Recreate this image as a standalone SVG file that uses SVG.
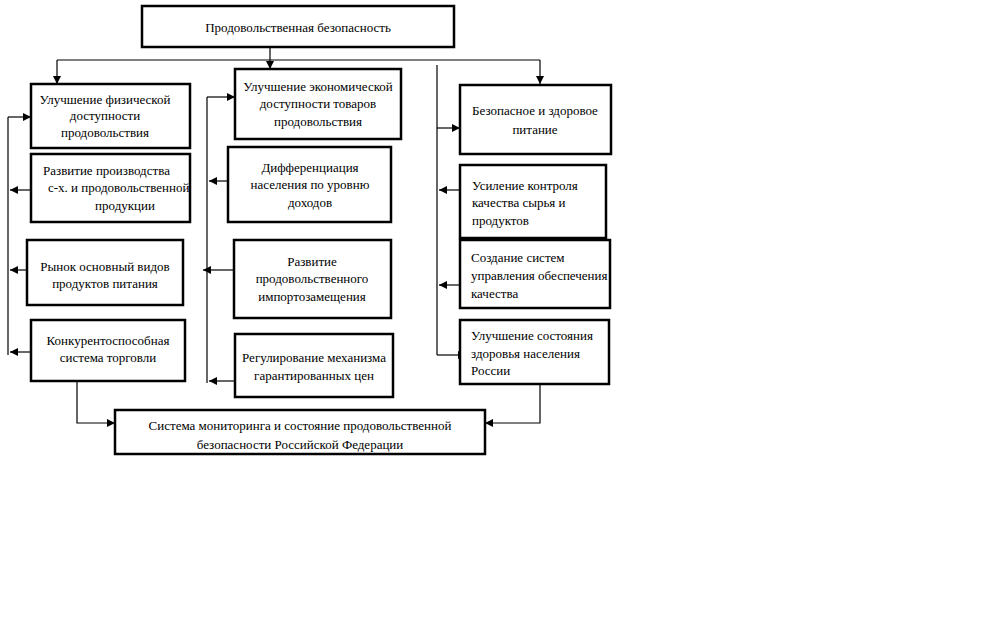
<svg xmlns="http://www.w3.org/2000/svg" width="1008" height="630" viewBox="0 0 1008 630">
<style>
.b{fill:#fff;stroke:#000;stroke-width:2.5}
.t{font-family:"Liberation Serif",serif;font-size:13px;fill:#000}
.m{text-anchor:middle}
.c{fill:none;stroke:#000;stroke-width:1.2}
</style>
<defs><marker id="a" viewBox="0 0 10 10" refX="10" refY="5" markerWidth="7" markerHeight="7" orient="auto"><path d="M0,0L10,5L0,10z"/></marker></defs>
<rect width="1008" height="630" fill="#fff"/>
<g id="connectors" class="c">
<path d="M57,60H540"/>
<path d="M57,60V84" marker-end="url(#a)"/>
<path d="M270,47V69" marker-end="url(#a)"/>
<path d="M540,60V84" marker-end="url(#a)"/>
<path d="M8,117V355"/>
<path d="M8,117H31" marker-end="url(#a)"/>
<path d="M31,190H10" marker-end="url(#a)"/>
<path d="M27,270H10" marker-end="url(#a)"/>
<path d="M31,352H10" marker-end="url(#a)"/>
<path d="M207,97V383"/>
<path d="M207,97H235" marker-end="url(#a)"/>
<path d="M228,181H209" marker-end="url(#a)"/>
<path d="M234,270H203" marker-end="url(#a)"/>
<path d="M235,381H209" marker-end="url(#a)"/>
<path d="M437,65V355"/>
<path d="M437,128H460" marker-end="url(#a)"/>
<path d="M460,190H439" marker-end="url(#a)"/>
<path d="M460,285H439" marker-end="url(#a)"/>
<path d="M437,355H466" marker-end="url(#a)"/>
<path d="M77,381V423H115" marker-end="url(#a)"/>
<path d="M540,384V423H485" marker-end="url(#a)"/>
</g>
<g id="n0"><rect class="b" x="142" y="6" width="312" height="41"/><text class="t m" x="298" y="32">Продовольственная безопасность</text></g>
<g id="n1"><rect class="b" x="31" y="84" width="159" height="64"/><text class="t m" x="105" y="104">Улучшение физической</text><text class="t m" x="105" y="120">доступности</text><text class="t m" x="105" y="137">продовольствия</text></g>
<g id="n2"><rect class="b" x="31" y="154" width="159" height="68"/><text class="t" x="43" y="175">Развитие производства</text><text class="t" x="48" y="192">с-х. и продовольственной</text><text class="t m" x="125" y="210">продукции</text></g>
<g id="n3"><rect class="b" x="27" y="240" width="156" height="65"/><text class="t m" x="105" y="271">Рынок основный видов</text><text class="t m" x="105" y="288">продуктов питания</text></g>
<g id="n4"><rect class="b" x="31" y="320" width="154" height="61"/><text class="t m" x="108" y="345">Конкурентоспособная</text><text class="t m" x="108" y="362">система торговли</text></g>
<g id="n5"><rect class="b" x="235" y="69" width="166" height="70"/><text class="t m" x="318" y="91">Улучшение экономической</text><text class="t m" x="318" y="108">доступности товаров</text><text class="t m" x="318" y="126">продовольствия</text></g>
<g id="n6"><rect class="b" x="228" y="147" width="163" height="75"/><text class="t m" x="310" y="172">Дифференциация</text><text class="t m" x="310" y="189">населения по уровню</text><text class="t m" x="310" y="207">доходов</text></g>
<g id="n7"><rect class="b" x="234" y="240" width="157" height="78"/><text class="t m" x="312" y="266">Развитие</text><text class="t m" x="312" y="283">продовольственного</text><text class="t m" x="312" y="301">импортозамещения</text></g>
<g id="n8"><rect class="b" x="235" y="334" width="158" height="63"/><text class="t m" x="314" y="362">Регулирование механизма</text><text class="t m" x="314" y="380">гарантированных цен</text></g>
<g id="n9"><rect class="b" x="460" y="85" width="151" height="69"/><text class="t m" x="535" y="115">Безопасное и здоровое</text><text class="t m" x="535" y="134">питание</text></g>
<g id="n10"><rect class="b" x="460" y="165" width="146" height="73"/><text class="t" x="472" y="190">Усиление контроля</text><text class="t" x="472" y="207">качества сырья и</text><text class="t" x="472" y="225">продуктов</text></g>
<g id="n11"><rect class="b" x="460" y="240" width="150" height="68"/><text class="t" x="471" y="262">Создание систем</text><text class="t" x="471" y="280">управления обеспечения</text><text class="t" x="471" y="298">качества</text></g>
<g id="n12"><rect class="b" x="460" y="320" width="149" height="64"/><text class="t" x="471" y="340">Улучшение состояния</text><text class="t" x="471" y="358">здоровья населения</text><text class="t" x="471" y="375">России</text></g>
<g id="n13"><rect class="b" x="115" y="410" width="370" height="44"/><text class="t m" x="300" y="430">Система мониторинга и состояние продовольственной</text><text class="t m" x="300" y="449">безопасности Российской Федерации</text></g>
</svg>
